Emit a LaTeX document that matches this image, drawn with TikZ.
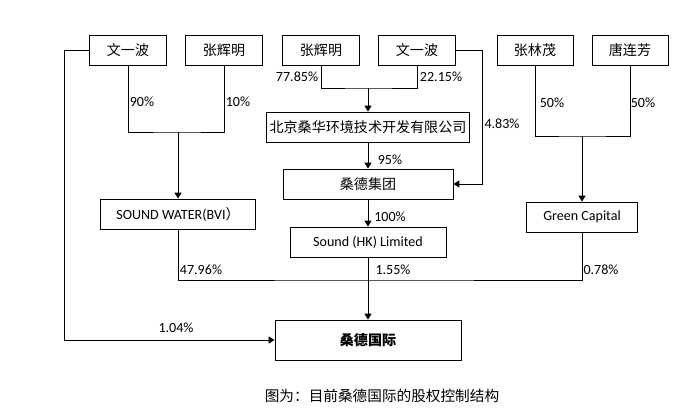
\documentclass[tikz,border=0pt]{standalone}
\usepackage{fontspec}
\setmainfont{Carlito}
\newfontfamily\cjk{Noto Sans CJK SC}
\usetikzlibrary{arrows.meta,calc}

\begin{document}
\begin{tikzpicture}[x=0.03cm,y=-0.03cm,
    box/.style={draw,thick,minimum height=0.9cm,inner sep=2pt,font=\cjk\fontsize{12}{14}\selectfont},
    pct/.style={font=\fontsize{12}{14}\selectfont},
    arr/.style={thick,-{Triangle[length=5pt,width=6pt]}}]

    \useasboundingbox (0,0) rectangle (693,413);

    % top row
    \node[box,minimum width=2.31cm] (wa) at (128,50) {文一波};
    \node[box,minimum width=2.31cm] (za) at (224,50) {张辉明};
    \node[box,minimum width=2.31cm] (zb) at (321,50) {张辉明};
    \node[box,minimum width=2.31cm] (wb) at (417,50) {文一波};
    \node[box,minimum width=2.28cm] (zl) at (535,50) {张林茂};
    \node[box,minimum width=2.28cm] (tl) at (630,50) {唐连芳};

    % middle
    \node[box,minimum width=6.09cm] (bj) at (368,127) {北京桑华环境技术开发有限公司};
    \node[box,minimum width=5.1cm] (sd) at (368,184) {桑德集团};
    \node[box,minimum width=4.65cm,font=\fontsize{12}{14}\selectfont] (sw) at (178,214) {SOUND WATER(BVI{\cjk ）}};
    \node[box,minimum width=4.68cm,font=\fontsize{12}{14}\selectfont] (hk) at (368,242) {Sound (HK) Limited};
    \node[box,minimum width=3.33cm,font=\fontsize{12}{14}\selectfont] (gc) at (582,217) {Green Capital};
    \node[box,minimum width=5.58cm,minimum height=1.2cm,font=\cjk\bfseries\fontsize{12}{14}\selectfont] (si) at (368,340) {桑德国际};

    % joins
    \coordinate (j1) at (178,132);
    \coordinate (j2) at (368,88);
    \coordinate (j3) at (582,136);
    \coordinate (j4) at (368,280);

    \draw[thick] (wa.south) |- (j1) -| (za.south);
    \draw[arr] (j1) -- (sw.north);
    \draw[thick] (zb.south) |- (j2) -| (wb.south);
    \draw[arr] (j2) -- (bj.north);
    \draw[thick] (zl.south) |- (j3) -| (tl.south);
    \draw[arr] (j3) -- (gc.north);
    \draw[arr] (bj.south) -- (sd.north);
    \draw[arr] (sd.south) -- (hk.north);
    \draw[arr] (wb.east) -- ++(26,0) |- (sd.east);
    \draw[arr] (wa.west) -- ++(-25,0) |- (si.west);
    \draw[thick] (sw.south) |- (j4) -| (gc.south);
    \draw[arr] (hk.south) -- (si.north);

    % labels
    \node[pct] (p1) at (142,102) {90\%};
    \node[pct] (p2) at (238,102) {10\%};
    \node[pct] (p3) at (297,77) {77.85\%};
    \node[pct] (p4) at (441,77) {22.15\%};
    \node[pct] (p5) at (502,124) {4.83\%};
    \node[pct] (p6) at (390,160) {95\%};
    \node[pct] (p7) at (390,217) {100\%};
    \node[pct] (p8) at (552,103) {50\%};
    \node[pct] (p9) at (643,103) {50\%};
    \node[pct] (p10) at (201,270) {47.96\%};
    \node[pct] (p11) at (393,270) {1.55\%};
    \node[pct] (p12) at (601,270) {0.78\%};
    \node[pct] (p13) at (176,328) {1.04\%};

    \node[font=\cjk\fontsize{12.5}{14}\selectfont] (cap) at (382,396) {图为：目前桑德国际的股权控制结构};
\end{tikzpicture}
\end{document}
